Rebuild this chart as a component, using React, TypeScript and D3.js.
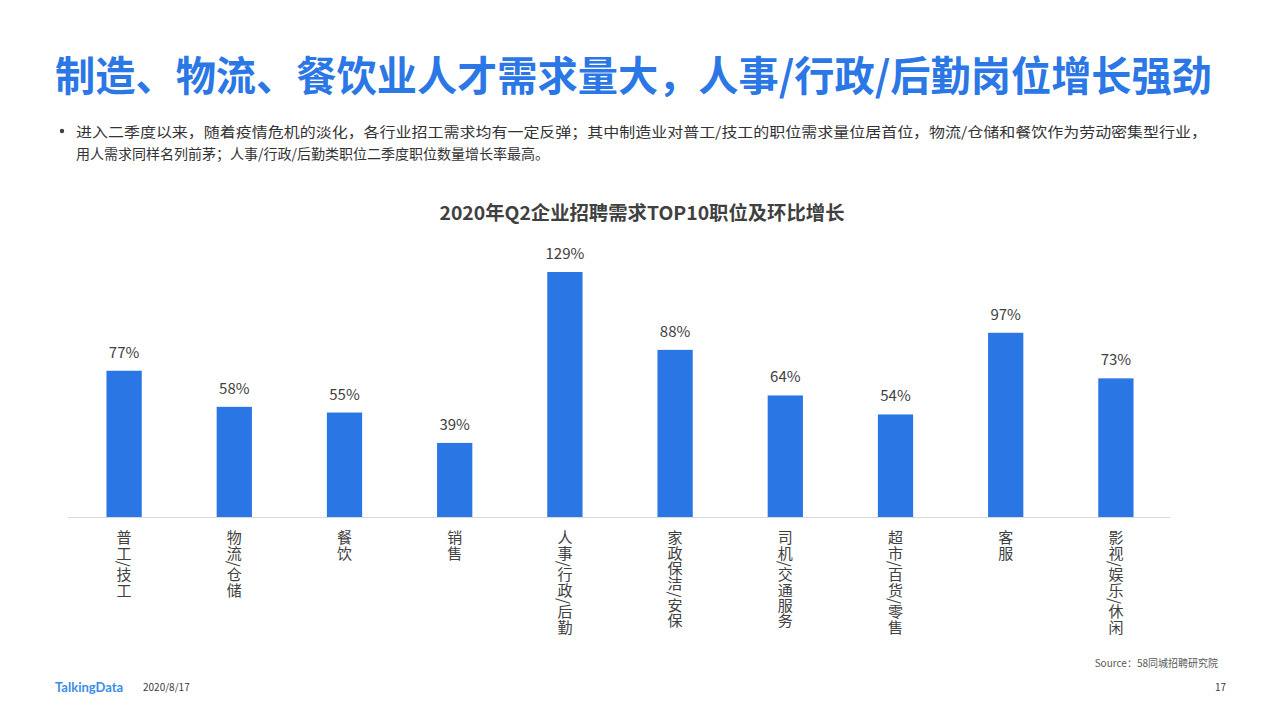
import { useEffect, useRef } from 'react';
import * as d3 from 'd3';

const categories = [
  '普工/技工',
  '物流/仓储',
  '餐饮',
  '销售',
  '人事/行政/后勤',
  '家政保洁/安保',
  '司机/交通服务',
  '超市/百货/零售',
  '客服',
  '影视/娱乐/休闲',
];
const growth = [77, 58, 55, 39, 129, 88, 64, 54, 97, 73];

const headline = '制造、物流、餐饮业人才需求量大，人事/行政/后勤岗位增长强劲';
const bulletLines = [
  '进入二季度以来，随着疫情危机的淡化，各行业招工需求均有一定反弹；其中制造业对普工/技工的职位需求量位居首位，物流/仓储和餐饮作为劳动密集型行业，',
  '用人需求同样名列前茅；人事/行政/后勤类职位二季度职位数量增长率最高。',
];
const chartTitle = '2020年Q2企业招聘需求TOP10职位及环比增长';
const sourceText = 'Source：58同城招聘研究院';

const W = 1280;
const H = 720;
const FONT = '"Noto Sans CJK SC", "Microsoft YaHei", sans-serif';

export default function App() {
  const svgRef = useRef<SVGSVGElement>(null);

  useEffect(() => {
    if (!svgRef.current) return;
    const svg = d3.select(svgRef.current);
    svg.selectAll('*').remove();

    svg.append('rect').attr('width', W).attr('height', H).attr('fill', '#fff');

    // Headline
    svg
      .append('text')
      .attr('x', 55)
      .attr('y', 91)
      .attr('font-size', 41)
      .attr('font-weight', 'bold')
      .attr('fill', '#2b77e5')
      .attr('textLength', 1157)
      .attr('lengthAdjust', 'spacingAndGlyphs')
      .text(headline);

    // Bullet
    svg.append('circle').attr('cx', 62).attr('cy', 131).attr('r', 2.2).attr('fill', '#404040');
    bulletLines.forEach((line, i) => {
      const t = svg
        .append('text')
        .attr('x', 76)
        .attr('y', 137 + i * 22)
        .attr('font-size', 14)
        .attr('fill', '#333')
        .text(line);
      if (i === 0) t.attr('textLength', 1131).attr('lengthAdjust', 'spacingAndGlyphs');
    });

    // Chart title
    svg
      .append('text')
      .attr('x', 642)
      .attr('y', 220)
      .attr('text-anchor', 'middle')
      .attr('font-size', 19)
      .attr('font-weight', 'bold')
      .attr('fill', '#404040')
      .attr('textLength', 405)
      .attr('lengthAdjust', 'spacingAndGlyphs')
      .text(chartTitle);

    const baseY = 517;
    const x = d3.scaleBand<string>().domain(categories).range([69, 1171]).paddingInner(0.68).paddingOuter(0.34);
    const y = d3.scaleLinear().domain([0, 129]).range([baseY, 272]);

    const g = svg.append('g');

    g.selectAll('.bar')
      .data(growth)
      .enter()
      .append('rect')
      .attr('x', (_, i) => x(categories[i]) || 0)
      .attr('y', (d) => y(d))
      .attr('width', x.bandwidth())
      .attr('height', (d) => baseY - y(d))
      .attr('fill', '#2a76e4');

    g.selectAll('.val')
      .data(growth)
      .enter()
      .append('text')
      .attr('x', (_, i) => (x(categories[i]) || 0) + x.bandwidth() / 2)
      .attr('y', (d) => y(d) - 13)
      .attr('text-anchor', 'middle')
      .attr('font-size', 15)
      .attr('fill', '#404040')
      .text((d) => `${d}%`);

    // Axis line
    g.append('line')
      .attr('x1', 68)
      .attr('x2', 1170)
      .attr('y1', baseY + 0.5)
      .attr('y2', baseY + 0.5)
      .attr('stroke', '#d9d9d9')
      .attr('stroke-width', 1);

    // Vertical category labels
    g.selectAll('.cat')
      .data(categories)
      .enter()
      .append('text')
      .attr('x', (d) => (x(d) || 0) + x.bandwidth() / 2)
      .attr('y', 530)
      .attr('font-size', 15)
      .attr('fill', '#404040')
      .attr('letter-spacing', 0.4)
      .style('writing-mode', 'vertical-rl')
      .style('text-orientation', 'mixed')
      .text((d) => d);

    // Footer
    svg
      .append('text')
      .attr('x', 1218)
      .attr('y', 667)
      .attr('text-anchor', 'end')
      .attr('font-size', 10)
      .attr('fill', '#595959')
      .text(sourceText);

    svg
      .append('text')
      .attr('x', 55)
      .attr('y', 692)
      .attr('font-size', 13)
      .attr('font-weight', 'bold')
      .attr('font-family', 'Lato, sans-serif')
      .attr('fill', '#3a8ee8')
      .text('TalkingData');

    svg
      .append('text')
      .attr('x', 143)
      .attr('y', 691)
      .attr('font-size', 10)
      .attr('fill', '#404040')
      .text('2020/8/17');

    svg
      .append('text')
      .attr('x', 1226)
      .attr('y', 691)
      .attr('text-anchor', 'end')
      .attr('font-size', 10)
      .attr('fill', '#404040')
      .text('17');
  }, []);

  return (
    <div style={{ position: 'fixed', left: 0, top: 0 }}>
      <svg ref={svgRef} width={W} height={H} style={{ display: 'block', fontFamily: FONT }} />
    </div>
  );
}
